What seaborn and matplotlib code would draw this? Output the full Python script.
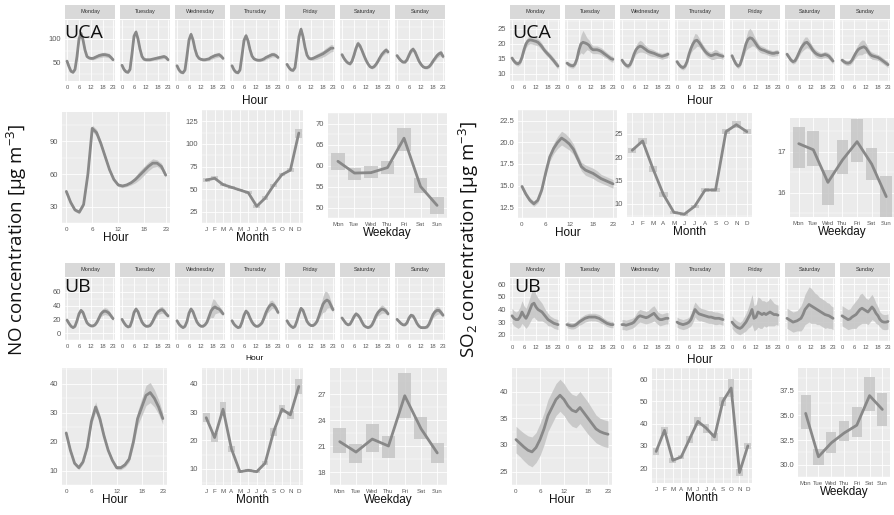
import numpy as np
import matplotlib
matplotlib.use("Agg")
import matplotlib.pyplot as plt
import seaborn as sns

# ---------------- data ----------------
HOURS = list(range(24))
DAYS = ["Monday", "Tuesday", "Wednesday", "Thursday", "Friday", "Saturday", "Sunday"]
MONTHS = list(range(1, 13))
MONTH_LABELS = ["J", "F", "M", "A", "M", "J", "J", "A", "S", "O", "N", "D"]
WDAYS = list(range(1, 8))
WDAY_LABELS = ["Mon", "Tue", "Wed", "Thu", "Fri", "Sat", "Sun"]

# NO, UCA site
NO_UCA_WEEK = [
    [52, 40, 30, 28, 34, 62, 100, 112, 98, 76, 62, 59, 58, 58, 60, 62, 64, 65, 66, 66, 65, 64, 60, 55],
    [43, 34, 29, 28, 34, 68, 106, 115, 100, 78, 62, 56, 55, 55, 55, 56, 57, 58, 59, 60, 61, 62, 60, 55],
    [42, 33, 28, 27, 33, 64, 98, 110, 98, 78, 64, 58, 56, 55, 55, 56, 57, 60, 62, 64, 65, 66, 63, 58],
    [42, 33, 28, 27, 33, 64, 97, 107, 96, 77, 63, 57, 55, 54, 54, 55, 57, 60, 62, 64, 66, 66, 64, 60],
    [45, 38, 33, 32, 38, 70, 105, 121, 105, 82, 65, 58, 57, 58, 60, 62, 64, 66, 68, 71, 74, 77, 80, 80],
    [66, 58, 52, 48, 46, 52, 65, 80, 90, 85, 75, 64, 54, 46, 40, 38, 40, 45, 52, 60, 67, 72, 76, 72],
    [64, 58, 53, 50, 50, 55, 65, 74, 78, 72, 62, 52, 45, 40, 38, 38, 40, 45, 52, 58, 64, 68, 70, 62],
]
NO_UCA_WEEK_CI = [
    [4, 3, 3, 3, 3, 4, 6, 6, 5, 4, 3, 3, 3, 3, 4, 4, 5, 5, 5, 5, 5, 5, 4, 4],
    [3, 3, 3, 3, 3, 4, 6, 6, 5, 4, 3, 3, 3, 3, 3, 3, 3, 4, 4, 4, 4, 4, 4, 4],
    [3, 3, 3, 3, 3, 4, 6, 6, 5, 4, 3, 3, 3, 3, 3, 3, 4, 4, 5, 5, 5, 5, 4, 4],
    [3, 3, 3, 3, 3, 4, 6, 6, 5, 4, 3, 3, 3, 3, 3, 3, 4, 4, 5, 5, 5, 5, 4, 4],
    [4, 3, 3, 3, 3, 4, 6, 7, 6, 4, 3, 3, 3, 4, 5, 6, 6, 7, 7, 8, 8, 8, 8, 7],
    [4, 4, 4, 3, 3, 4, 5, 6, 6, 5, 4, 4, 3, 3, 3, 3, 3, 4, 4, 5, 5, 6, 6, 5],
    [4, 4, 4, 3, 3, 4, 5, 5, 5, 5, 4, 4, 3, 3, 3, 3, 3, 4, 4, 5, 5, 6, 6, 5],
]
NO_UCA_HOUR = [44, 34, 27, 25, 32, 60, 102, 98, 88, 76, 64, 55, 50, 49, 50, 52, 55, 59, 63, 67, 70, 70, 67, 59]
NO_UCA_HOUR_CI = [2, 2, 1.5, 1.5, 1.5, 2, 3, 3, 2.5, 2, 1.5, 1.5, 1.5, 1.5, 1.5, 2, 3, 4, 4, 4, 4, 3, 3, 2]
NO_UCA_MONTH = [60, 62, 55, 52, 49, 46, 31, 40, 54, 66, 71, 112]
NO_UCA_MONTH_CI = [2, 2, 1.5, 1.5, 1.5, 1.5, 1.5, 2, 2, 2, 2, 5]
NO_UCA_WDAY = [61, 58.2, 58.3, 59.5, 66.5, 55, 50.5]
NO_UCA_WDAY_LO = [59, 56.5, 57, 58, 63.5, 53.5, 48.5]
NO_UCA_WDAY_HI = [63, 59.5, 60, 61, 69, 57, 52.5]

# NO, UB site
NO_UB_WEEK = [
    [19, 14, 10, 8, 10, 18, 28, 33, 30, 22, 15, 12, 10.5, 10.5, 12, 16, 22, 28, 31, 32, 31, 29, 25, 21],
    [20, 15, 11, 9, 10, 18, 30, 35, 31, 23, 16, 12, 10, 10, 11, 15, 21, 27, 31, 33, 34, 32, 28, 25],
    [18, 13, 10, 8, 10, 17, 29, 35, 31, 23, 16, 12, 10, 10, 12, 16, 24, 32, 36, 38, 36, 35, 32, 28],
    [18, 13, 10, 8, 9, 16, 26, 32, 29, 22, 16, 12, 10, 10, 12, 15, 22, 30, 36, 40, 42, 40, 36, 30],
    [18, 13, 10, 8, 10, 18, 28, 36, 33, 25, 17, 13, 11, 11, 13, 17, 25, 34, 42, 46, 48, 46, 40, 34],
    [22, 18, 14, 12, 13, 18, 24, 28, 26, 22, 16, 11, 9, 8, 9, 12, 18, 25, 30, 33, 35, 34, 32, 28],
    [20, 17, 14, 12, 12, 15, 22, 26, 25, 20, 14, 10, 8, 8, 8, 9, 13, 20, 27, 31, 33, 33, 30, 26],
]
NO_UB_WEEK_CI = [
    [2, 2, 1.5, 1.5, 1.5, 2, 2.5, 3, 2.5, 2, 1.5, 1.5, 1.5, 1.5, 1.5, 2, 3, 4, 5, 5, 5, 4, 3, 3],
    [2, 2, 1.5, 1.5, 1.5, 2, 2.5, 3, 2.5, 2, 1.5, 1.5, 1.5, 1.5, 1.5, 2, 3, 4, 4, 5, 5, 4, 3, 3],
    [2, 2, 1.5, 1.5, 1.5, 2, 2.5, 3, 2.5, 2, 1.5, 1.5, 1.5, 1.5, 1.5, 2, 4, 9, 14, 10, 7, 5, 4, 3],
    [2, 2, 1.5, 1.5, 1.5, 2, 2.5, 3, 2.5, 2, 1.5, 1.5, 1.5, 1.5, 1.5, 2, 3, 5, 6, 7, 6, 5, 4, 3],
    [2, 2, 1.5, 1.5, 1.5, 2, 2.5, 3, 2.5, 2, 1.5, 1.5, 1.5, 1.5, 1.5, 2, 4, 8, 12, 15, 12, 9, 6, 4],
    [2, 2, 1.5, 1.5, 1.5, 2, 2.5, 3, 2.5, 2, 1.5, 1.5, 1.5, 1.5, 1.5, 2, 3, 4, 5, 6, 6, 5, 4, 3],
    [2, 2, 1.5, 1.5, 1.5, 2, 2.5, 3, 2.5, 2, 1.5, 1.5, 1.5, 1.5, 1.5, 2, 3, 4, 5, 6, 6, 5, 4, 3],
]
NO_UB_HOUR = [23, 17, 12.5, 11, 13, 18, 27, 32, 28, 22, 17, 13.5, 11, 11, 12, 14, 20, 28, 32, 36, 37, 35, 32, 28]
NO_UB_HOUR_CI = [1, 0.8, 0.7, 0.7, 0.7, 0.8, 1.2, 1.8, 1.4, 1, 0.8, 0.7, 0.7, 0.7, 0.8, 1, 1.6, 2.5, 3, 3.5, 3.5, 3, 2.5, 2]
NO_UB_MONTH = [28, 21, 31, 17, 9, 9.5, 9, 12, 23, 31, 29, 39]
NO_UB_MONTH_CI = [1.5, 1.5, 2.5, 1, 0.5, 0.5, 0.5, 0.7, 1.5, 1.5, 1.5, 2.5]
NO_UB_WDAY = [21.5, 20.3, 21.8, 21.0, 26.8, 23.0, 20.2]
NO_UB_WDAY_LO = [20.2, 19.0, 20.3, 19.6, 24.2, 21.8, 19.0]
NO_UB_WDAY_HI = [23.1, 21.2, 23.5, 22.2, 29.4, 24.4, 21.3]

# SO2, UCA site
SO2_UCA_WEEK = [
    [15.2, 14.2, 13.5, 13.3, 13.8, 15.5, 18, 20, 21, 21.3, 21.2, 21, 20.8, 20.5, 19.8, 19, 18, 17.2, 16.5, 15.8, 15, 14.2, 13.3, 12.5],
    [13.5, 13, 12.7, 12.6, 13.2, 15, 18, 20, 20.5, 20.3, 20, 19.5, 18.5, 18, 18, 18, 17.8, 17.5, 17, 16.5, 16, 15.5, 15, 14.8],
    [14.5, 13.5, 12.8, 12.5, 13, 14.5, 16.5, 18, 18.8, 19.2, 19, 18.5, 18, 17.5, 17.2, 17, 16.8, 16.5, 16.2, 16, 15.8, 16, 16.2, 16.5],
    [14, 13, 12.3, 12, 12.5, 14, 16.5, 18.5, 20, 21, 21.2, 20.5, 19.5, 18.5, 17.5, 16.8, 16.3, 16, 16.2, 16.5, 16.5, 16.2, 16, 15.8],
    [16, 14.5, 13.2, 12.5, 13, 15, 17.5, 20, 21.5, 22, 21.8, 21, 20, 19, 18.3, 18, 17.8, 17.5, 17.2, 17, 16.8, 16.8, 17, 17],
    [16.5, 15.5, 14.5, 14, 14.3, 15.5, 17, 18.5, 19.5, 20.3, 20.5, 19.8, 18.8, 17.8, 17, 16.5, 16.2, 16, 16.2, 16.4, 16.2, 15.8, 15, 14.2],
    [14.5, 14, 13.6, 13.5, 13.7, 14.5, 15.8, 17, 18, 18.5, 18.8, 19, 18.5, 17.5, 16.5, 16, 15.8, 15.6, 15.4, 15, 14.5, 14, 13.5, 13],
]
SO2_UCA_WEEK_CI = [
    [0.8, 0.8, 0.8, 0.8, 0.8, 1, 1.2, 1.3, 1.3, 1.3, 1.3, 1.3, 1.3, 1.2, 1.2, 1.1, 1, 1, 1, 1, 1, 1, 1, 1],
    [0.8, 0.8, 0.8, 0.8, 0.8, 1, 1.8, 3, 4, 3, 2, 1.8, 1.5, 1.3, 1.3, 1.3, 1.2, 1.2, 1.2, 1.1, 1, 1, 1, 1],
    [0.8, 0.8, 0.8, 0.8, 0.8, 1, 1.2, 1.5, 1.8, 2, 1.8, 1.5, 1.3, 1.2, 1.2, 1.2, 1.1, 1, 1, 1, 1, 1, 1, 1],
    [0.8, 0.8, 0.8, 0.8, 0.8, 1, 1.2, 1.5, 2, 2.5, 2, 1.5, 1.3, 1.2, 1.2, 1.2, 1.1, 1.2, 1.5, 1.6, 1.4, 1.1, 1, 1],
    [0.8, 0.8, 0.8, 0.8, 0.8, 1, 1.5, 2.2, 3, 3.2, 2.5, 1.8, 1.5, 1.3, 1.2, 1.2, 1.1, 1, 1, 1, 1, 1, 1, 1],
    [0.8, 0.8, 0.8, 0.8, 0.8, 1, 1.2, 1.5, 1.8, 2, 1.8, 1.5, 1.3, 1.2, 1.2, 1.2, 1.1, 1, 1, 1, 1, 1, 1, 1],
    [0.8, 0.8, 0.8, 0.8, 0.8, 1, 1.2, 1.5, 1.8, 2.2, 2.5, 2.2, 1.6, 1.3, 1.2, 1.2, 1.1, 1, 1, 1, 1, 1, 1, 1],
]
SO2_UCA_HOUR = [14.9, 14.0, 13.3, 12.9, 13.3, 14.5, 16.5, 18.3, 19.3, 20.0, 20.5, 20.2, 19.8, 19.2, 18.2, 17.2,
                16.8, 16.6, 16.4, 16.1, 15.8, 15.6, 15.4, 15.2]
SO2_UCA_HOUR_CI = [0.3, 0.3, 0.3, 0.3, 0.3, 0.3, 0.4, 0.5, 0.6, 0.7, 0.8, 0.8, 0.7, 0.6, 0.5, 0.5,
                   0.6, 0.6, 0.6, 0.6, 0.5, 0.5, 0.5, 0.5]
SO2_UCA_MONTH = [21.5, 23.5, 17.5, 12, 8.2, 7.8, 9.5, 13, 13, 25.5, 27, 25.5]
SO2_UCA_MONTH_CI = [0.6, 0.6, 0.6, 0.5, 0.3, 0.3, 0.3, 0.4, 0.5, 0.6, 0.7, 0.6]
SO2_UCA_WDAY = [17.2, 17.05, 16.25, 16.8, 17.25, 16.7, 15.9]
SO2_UCA_WDAY_LO = [16.6, 16.65, 15.7, 16.45, 16.75, 16.3, 15.4]
SO2_UCA_WDAY_HI = [17.6, 17.5, 16.55, 17.3, 17.8, 17.1, 16.4]

# SO2, UB site
SO2_UB_WEEK = [
    [35, 33, 32, 32, 34, 38, 35, 33, 36, 40, 44, 45, 42, 40, 39, 38, 36, 34, 32, 31, 30, 29, 28.5, 28],
    [28, 27.5, 27, 27, 27.5, 28.5, 30, 31, 32, 33, 33.5, 34, 34, 34, 34, 33.5, 33, 32, 31, 30, 29, 28.5, 28, 28],
    [28, 28, 27.5, 28, 28.5, 29, 30, 32, 34, 35, 34.5, 34, 33.5, 34, 35, 36, 37, 35, 33, 32, 32, 32.5, 33, 33],
    [30, 29, 28.5, 28, 28.5, 29, 30, 32, 36, 40, 38, 36.5, 36, 35.5, 35, 34.5, 34, 34, 33.5, 33, 33, 33, 32.5, 32],
    [30, 28, 26.5, 25.5, 25, 26, 28, 30, 33, 36, 40, 33, 34, 38, 37, 36, 37, 36, 37, 38, 37, 36, 36, 35.5],
    [33, 32, 31, 30, 30.5, 31, 32, 33, 36, 40, 42, 44, 43, 42, 41, 40, 39, 38, 37, 36, 35.5, 35, 34, 33],
    [35, 34, 33, 32, 32.5, 34, 35, 36, 38, 40, 41, 40, 39, 38, 40, 42, 40, 37, 35, 32, 30.5, 30, 30, 30.5],
]
SO2_UB_WEEK_CI = [
    [6, 6, 6, 7, 8, 9, 8, 8, 9, 10, 11, 11, 10, 9, 8, 7, 6, 5, 5, 4, 4, 4, 4, 4],
    [2.5, 2.5, 2.5, 2.5, 2.5, 2.5, 2.5, 3, 3, 3, 3, 3, 3, 3, 3, 3, 3, 3, 2.5, 2.5, 2.5, 2.5, 2.5, 2.5],
    [4, 4, 4, 4, 4, 4, 4, 4.5, 5, 5, 5, 5, 5, 5, 5.5, 6, 6, 5.5, 5, 5, 4.5, 4.5, 4.5, 4.5],
    [4, 4, 4, 4, 4, 4, 4, 5, 6, 6, 6, 5.5, 5, 5, 5, 5, 5, 5, 5, 5, 5, 4.5, 4.5, 4.5],
    [5, 5, 5, 5, 5, 5, 6, 7, 8, 10, 12, 10, 10, 12, 12, 11, 10, 10, 10, 11, 10, 9, 8, 8],
    [8, 8, 8, 8, 8, 8, 9, 10, 11, 12, 13, 14, 14, 13, 12, 12, 11, 11, 11, 11, 10, 10, 9, 9],
    [8, 8, 8, 8, 8, 9, 10, 11, 11, 12, 12, 11, 10, 10, 10, 10, 9, 8, 7, 6, 6, 6, 6, 6],
]
SO2_UB_HOUR = [31, 30.3, 29.6, 29, 28.7, 29.5, 31, 33, 35.5, 37, 38.5, 39.3, 38.5, 37.3, 36.5, 36.2,
               37, 36, 35, 34, 33, 32.5, 32.2, 32]
SO2_UB_HOUR_CI = [2.5, 2.5, 2.6, 2.7, 2.8, 2.8, 3, 3, 3, 3, 3, 3, 3, 3, 3, 3, 3, 3, 3, 2.8, 2.6, 2.5, 2.5, 2.5]
SO2_UB_MONTH = [27.5, 37, 23.5, 25, 33, 41, 38, 34, 50, 56, 18, 30]
SO2_UB_MONTH_CI = [1.5, 1.5, 1, 1, 1.5, 2, 2, 2, 2, 4, 1.5, 1.5]
SO2_UB_WDAY = [35.2, 30.8, 32.2, 33.2, 34.0, 37.0, 35.6]
SO2_UB_WDAY_LO = [33.6, 30.0, 31.2, 32.4, 32.8, 35.4, 33.9]
SO2_UB_WDAY_HI = [37.1, 31.6, 33.3, 34.4, 35.8, 38.9, 37.3]

# ---------------- style ----------------
sns.set_theme(style="darkgrid")
plt.rcParams["font.family"] = ["Liberation Sans", "DejaVu Sans"]
plt.rcParams["mathtext.default"] = "regular"

W, H = 895, 515
BG = "#EBEBEB"
LINE = "#888888"
BAND = "#c6c6c6"
STRIP = "#D9D9D9"
TICKC = "#5a5a5a"

fig = plt.figure(figsize=(W / 100, H / 100), dpi=100)
fig.patch.set_facecolor("white")


def axp(x0, y0, x1, y1):
    return fig.add_axes([x0 / W, 1 - y1 / H, (x1 - x0) / W, (y1 - y0) / H])


def style(ax, ylim, yticks, xlim, xticks, xticklabels, show_y=True, xfs=4.5, yfs=5.5):
    ax.set_facecolor(BG)
    ax.set_xlim(xlim)
    ax.set_ylim(ylim)
    ax.set_xticks(xticks)
    ax.set_xticklabels(xticklabels)
    ax.set_yticks(yticks)
    if len(yticks) > 1:
        step = yticks[1] - yticks[0]
        ax.set_yticks([t + step / 2 for t in [yticks[0] - step] + list(yticks)], minor=True)
    ax.grid(which="major", color="white", linewidth=0.6)
    ax.grid(which="minor", color="white", linewidth=0.3)
    ax.set_axisbelow(True)
    for s in ax.spines.values():
        s.set_visible(False)
    ax.tick_params(which="major", length=1.8, width=0.5, color="#444444", pad=1, labelcolor=TICKC)
    ax.tick_params(which="minor", length=0)
    ax.tick_params(axis="x", labelsize=xfs)
    ax.tick_params(axis="y", labelsize=yfs)
    if not show_y:
        ax.tick_params(axis="y", left=False, labelleft=False)
    ax.set_xlabel("")
    ax.set_ylabel("")


def ribbon(ax, x, mean, ci):
    m = np.asarray(mean, float)
    c = np.asarray(ci, float)
    ax.fill_between(x, m - c, m + c, color=BAND, linewidth=0, alpha=0.9)
    sns.lineplot(x=x, y=mean, ax=ax, color=LINE, linewidth=2.0)


def boxes(ax, x, mean, lo, hi):
    lo = np.asarray(lo, float)
    hi = np.asarray(hi, float)
    ax.bar(x, hi - lo, bottom=lo, width=0.8, color=BAND, alpha=0.85, linewidth=0)
    sns.lineplot(x=x, y=mean, ax=ax, color=LINE, linewidth=2.0)


def strip_row(x0, yh0, yh1, y1, week, week_ci, ylim, yticks, title_y, title_fs):
    for i, day in enumerate(DAYS):
        xa = x0 + i * 55
        hax = axp(xa, yh0, xa + 50, yh1)
        hax.set_facecolor(STRIP)
        hax.set_xticks([])
        hax.set_yticks([])
        hax.grid(False)
        for s in hax.spines.values():
            s.set_visible(False)
        hax.text(0.5, 0.5, day, ha="center", va="center", fontsize=4, color="#333333",
                 transform=hax.transAxes)
        ax = axp(xa, yh1 + 1, xa + 50, y1)
        ribbon(ax, HOURS, week[i], week_ci[i])
        style(ax, ylim, yticks, (-1, 24), [0, 6, 12, 18, 23], ["0", "6", "12", "18", "23"],
              show_y=(i == 0), xfs=4.2, yfs=5.5)
    fig.text((x0 + x0 + 6 * 55 + 50) / 2 / W, 1 - title_y / H, "Hour", ha="center", va="center",
             fontsize=title_fs, color="#111111")


def bottom_row(pos, hour, hour_ci, hlim, hticks, month, month_ci, mlim, mticks,
               wday, wlo, whi, wlim, wticks):
    ax = axp(*pos[0])
    ribbon(ax, HOURS, hour, hour_ci)
    style(ax, hlim, hticks, (-1, 24), [0, 6, 12, 18, 23], ["0", "6", "12", "18", "23"])
    ax.set_xlabel("Hour", fontsize=8.5, color="#111111", labelpad=0)

    ax = axp(*pos[1])
    m = np.asarray(month, float)
    c = np.asarray(month_ci, float)
    boxes(ax, MONTHS, month, m - c, m + c)
    style(ax, mlim, mticks, (0.5, 12.5), MONTHS, MONTH_LABELS)
    ax.set_xlabel("Month", fontsize=8.5, color="#111111", labelpad=0)

    ax = axp(*pos[2])
    boxes(ax, WDAYS, wday, wlo, whi)
    style(ax, wlim, wticks, (0.4, 7.6), WDAYS, WDAY_LABELS, xfs=4.3)
    ax.set_xlabel("Weekday", fontsize=8.5, color="#111111", labelpad=0)


# ---------------- NO (left) ----------------
strip_row(65, 5, 19, 81, NO_UCA_WEEK, NO_UCA_WEEK_CI, (9, 141), [50, 100], 101, 8.5)
bottom_row([(62, 112, 170, 223), (202, 110, 303, 223), (328, 113, 447, 218)],
           NO_UCA_HOUR, NO_UCA_HOUR_CI, (17, 117), [30, 60, 90],
           NO_UCA_MONTH, NO_UCA_MONTH_CI, (23, 130), [25, 50, 75, 100, 125],
           NO_UCA_WDAY, NO_UCA_WDAY_LO, NO_UCA_WDAY_HI, (47.8, 70.5), [50, 55, 60, 65, 70])

strip_row(65, 263, 277, 340, NO_UB_WEEK, NO_UB_WEEK_CI, (-2.5, 80), [0, 20, 40, 60], 359, 6)
bottom_row([(62, 368, 167, 485), (202, 368, 303, 485), (330, 368, 447, 485)],
           NO_UB_HOUR, NO_UB_HOUR_CI, (5.9, 45.5), [10, 20, 30, 40],
           NO_UB_MONTH, NO_UB_MONTH_CI, (4.3, 45.5), [10, 20, 30, 40],
           NO_UB_WDAY, NO_UB_WDAY_LO, NO_UB_WDAY_HI, (17.7, 30.0), [18, 21, 24, 27])

# ---------------- SO2 (right) ----------------
strip_row(510, 5, 19, 81, SO2_UCA_WEEK, SO2_UCA_WEEK_CI, (9.6, 28), [10, 15, 20, 25], 101, 8.5)
bottom_row([(518, 110, 617, 218), (627, 113, 752, 217), (790, 118, 895, 217)],
           SO2_UCA_HOUR, SO2_UCA_HOUR_CI, (12.0, 22.9), [12.5, 15.0, 17.5, 20.0, 22.5],
           SO2_UCA_MONTH, SO2_UCA_MONTH_CI, (7.2, 29.5), [10, 15, 20, 25],
           SO2_UCA_WDAY, SO2_UCA_WDAY_LO, SO2_UCA_WDAY_HI, (15.4, 17.83), [16, 17])

strip_row(510, 263, 277, 341, SO2_UB_WEEK, SO2_UB_WEEK_CI, (18.6, 63.6), [20, 30, 40, 50, 60], 360, 8.5)
bottom_row([(512, 368, 612, 485), (652, 368, 752, 483), (798, 368, 890, 477)],
           SO2_UB_HOUR, SO2_UB_HOUR_CI, (24.6, 44.4), [25, 30, 35, 40],
           SO2_UB_MONTH, SO2_UB_MONTH_CI, (13.3, 64.5), [20, 30, 40, 50, 60],
           SO2_UB_WDAY, SO2_UB_WDAY_LO, SO2_UB_WDAY_HI, (29.5, 39.8), [30.0, 32.5, 35.0, 37.5])

# ---------------- labels ----------------
for x, t in [(17, "NO concentration [µg m$^{-3}$]"), (469, "SO$_2$ concentration [µg m$^{-3}$]")]:
    fig.text(x / W, 1 - 240 / H, t, rotation=90, ha="center", va="center", fontsize=13.5,
             family=["Open Sans", "DejaVu Sans"], color="#111111")
for x, y, t in [(64, 38, "UCA"), (512, 38, "UCA"), (64, 292, "UB"), (514, 292, "UB")]:
    fig.text(x / W, 1 - y / H, t, ha="left", va="baseline", fontsize=14,
             family=["Open Sans", "DejaVu Sans"], color="#111111")

fig.savefig("out.png", dpi=100, facecolor="white")
